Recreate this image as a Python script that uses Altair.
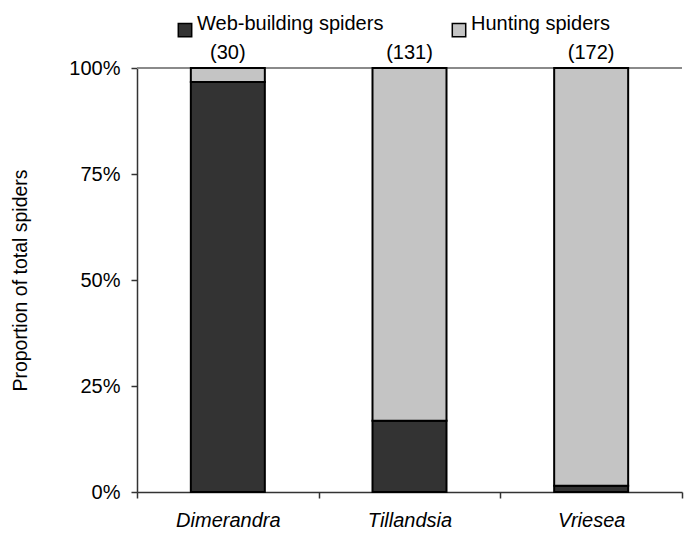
import altair as alt
import pandas as pd

plants = ["Dimerandra", "Tillandsia", "Vriesea"]
totals = [30, 131, 172]
web_share = [0.967, 0.168, 0.015]
hunting_share = [0.033, 0.832, 0.985]
groups = ["Web-building spiders", "Hunting spiders"]

rows = []
for p, w, h in zip(plants, web_share, hunting_share):
    rows.append({"plant": p, "group": groups[0], "share": w, "ord": 0})
    rows.append({"plant": p, "group": groups[1], "share": h, "ord": 1})
df = pd.DataFrame(rows)
tot = pd.DataFrame({"plant": plants, "label": [f"({n})" for n in totals]})

FONT = "Liberation Sans"
FS = 20

xenc = alt.X(
    "plant:N", sort=plants, title=None,
    scale=alt.Scale(paddingInner=0, paddingOuter=0),
    axis=alt.Axis(labelAngle=0, labelFontStyle="italic", labelFontSize=FS,
                  labelFont=FONT, labelColor="black", tickBand="extent",
                  tickSize=6, labelPadding=12, domainColor="#333",
                  tickColor="#333", domainWidth=1.5, tickWidth=1.5),
)

bars = alt.Chart(df).mark_bar(stroke="black", strokeWidth=2, width=74).encode(
    x=xenc,
    y=alt.Y("share:Q", stack="zero",
            scale=alt.Scale(domain=[0, 1], nice=False),
            title="Proportion of total spiders",
            axis=alt.Axis(values=[0, 0.25, 0.5, 0.75, 1], format=".0%",
                          grid=False, labelFontSize=FS, labelFont=FONT,
                          labelColor="black", titleFontSize=19.5, titleFont=FONT,
                          titleFontWeight="normal", titleColor="black",
                          tickSize=6, labelPadding=11, titlePadding=38,
                          domainColor="#333", tickColor="#333",
                          domainWidth=1.5, tickWidth=1.5)),
    color=alt.Color("group:N", scale=alt.Scale(domain=groups, range=["#333333", "#c4c4c4"]),
                    legend=alt.Legend(title=None, orient="none", direction="horizontal",
                                      legendX=38, legendY=-48, padding=0,
                                      symbolType="square", symbolSize=180,
                                      symbolStrokeColor="black", symbolStrokeWidth=1.5,
                                      labelFontSize=FS, labelFont=FONT, labelColor="black",
                                      labelBaseline="alphabetic", labelOffset=2,
                                      labelLimit=400, columnPadding=65)),
    order=alt.Order("ord:Q"),
)

top_rule = alt.Chart(tot).mark_rule(color="#888", strokeWidth=1.5).encode(y=alt.datum(1))

labels = alt.Chart(tot).mark_text(fontSize=FS, font=FONT, color="black", dy=-5,
                                   baseline="bottom").encode(
    x=alt.X("plant:N", sort=plants),
    y=alt.datum(1),
    text="label:N",
)

chart = alt.layer(top_rule, bars, labels).properties(
    width=545, height=424,
    padding={"left": 129, "top": 60, "right": 5, "bottom": 40},
    autosize=alt.AutoSizeParams(type="none"),
).configure_view(stroke=None)

chart.save("out.html", embed_options={"renderer": "svg", "actions": False})
